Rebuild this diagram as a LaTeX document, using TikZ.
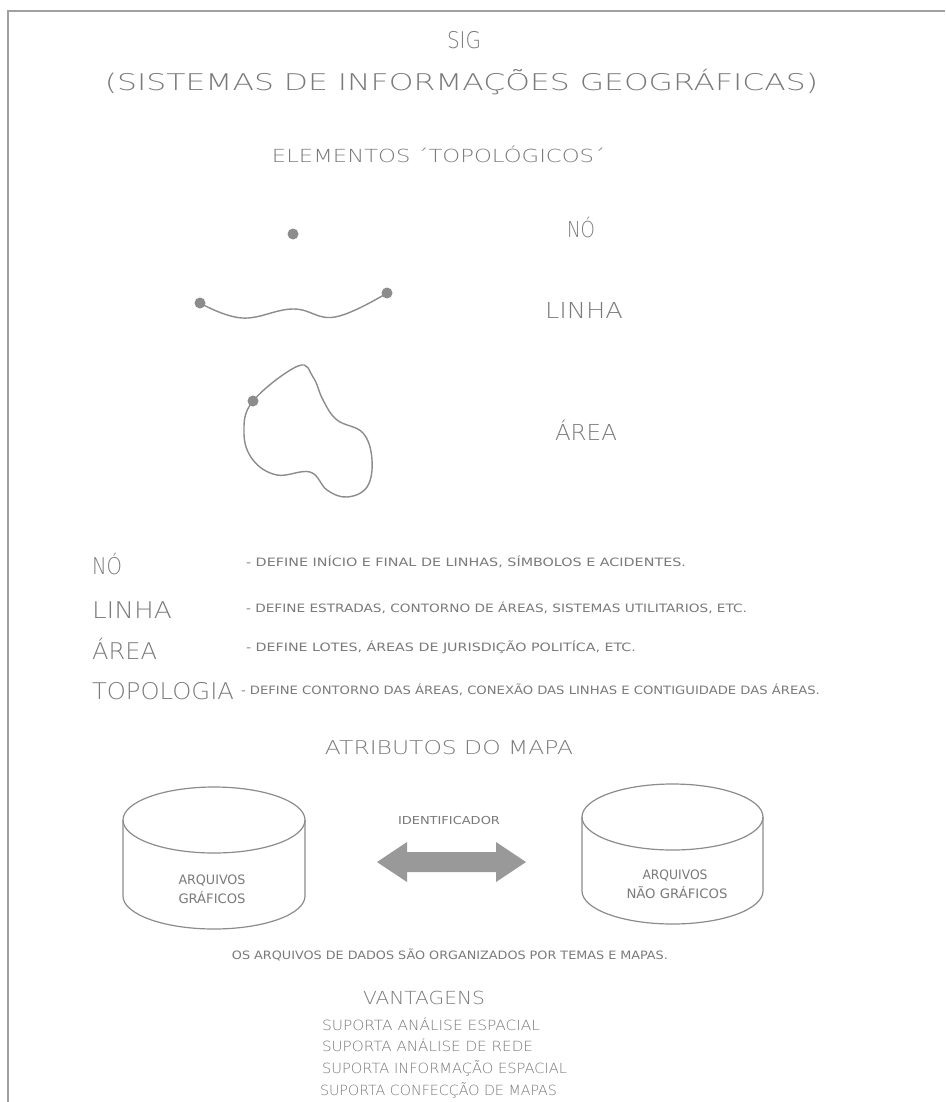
\documentclass[tikz,border=0pt]{standalone}
\usepackage{fontspec}
\usepackage{graphicx}
\newfontfamily\lightf{DejaVu Sans ExtraLight}
\newfontfamily\condf{DejaVu Sans Condensed}
\definecolor{ink}{HTML}{7A7A7A}
\definecolor{linegray}{HTML}{8C8C8C}
\definecolor{framegray}{HTML}{A0A0A0}
\definecolor{arrowgray}{HTML}{999999}
\newcommand\fitto[2]{\resizebox{#1pt}{\height}{#2}}
\tikzset{
  txt/.style={inner sep=0pt, outer sep=0pt, text=ink},
  fs/.style={font=\lightf\fontsize{#1}{#1}\selectfont},
  cs/.style={font=\condf\fontsize{#1}{#1}\selectfont},
  curve/.style={draw=linegray, line width=1.4pt},
  dot/.style={circle, fill=linegray, draw=none, minimum size=11pt, inner sep=0pt},
  cyl/.style={draw=linegray, line width=1.2pt},
  frame/.style={draw=framegray, line width=2pt},
  fatarrow/.style={fill=arrowgray, draw=none},
}
\begin{document}
\begin{tikzpicture}[x=1pt,y=-1pt]
\useasboundingbox (0,0) rectangle (945,1102);
\fill[white] (0,0) rectangle (945,1102);
\draw[frame] (8,1102) -- (8,11) -- (945,11);

% titles
\node[txt, fs=23, anchor=base] (sig) at (464,49) {\fitto{34}{SIG}};
\node[txt, fs=23, anchor=base] (title) at (461.5,91) {\fitto{713}{(SISTEMAS DE INFORMAÇÕES GEOGRÁFICAS)}};
\node[txt, fs=18, anchor=base] (elem) at (438.5,162) {\fitto{333}{ELEMENTOS ´TOPOLÓGICOS´}};

% topological elements
\node[dot] (no) at (293,234) {};
\node[txt, fs=22, anchor=base] (nolab) at (581,237) {\fitto{28}{NÓ}};

\node[dot] (la) at (200,303) {};
\node[dot] (lb) at (387,293) {};
\draw[curve] plot[smooth, tension=0.7] coordinates {(200,303) (242,318) (293,309) (335,317) (387,293)};
\node[txt, fs=22, anchor=base] (linlab) at (584,318) {\fitto{78}{LINHA}};

\draw[curve] plot[smooth cycle, tension=0.65] coordinates {
 (298,366) (313,377) (323,400) (337,420) (363,433) (372,460) (367,487)
 (347,497) (327,490) (310,472) (277,475) (253,460) (244,433) (253,401)};
\node[dot] (ad) at (253,401) {};
\node[txt, fs=22, anchor=base] (arlab) at (586,440) {\fitto{62}{ÁREA}};

% definitions
\node[txt, fs=23, anchor=base west] (dno) at (92,574) {\fitto{30}{NÓ}};
\node[txt, fs=23, anchor=base west] (dli) at (92,618) {\fitto{80}{LINHA}};
\node[txt, fs=23, anchor=base west] (dar) at (92,659) {\fitto{65}{ÁREA}};
\node[txt, fs=23, anchor=base west] (dto) at (92,699) {\fitto{142}{TOPOLOGIA}};
\node[txt, cs=11.5, anchor=base west] (tno) at (246,566) {\fitto{440}{- DEFINE INÍCIO E FINAL DE LINHAS, SÍMBOLOS E ACIDENTES.}};
\node[txt, cs=11.5, anchor=base west] (tli) at (246,612) {\fitto{501}{- DEFINE ESTRADAS, CONTORNO DE ÁREAS, SISTEMAS UTILITARIOS, ETC.}};
\node[txt, cs=11.5, anchor=base west] (tar) at (246,651) {\fitto{390}{- DEFINE LOTES, ÁREAS DE JURISDIÇÃO POLITÍCA, ETC.}};
\node[txt, cs=11.5, anchor=base west] (tto) at (241,694) {\fitto{579}{- DEFINE CONTORNO DAS ÁREAS, CONEXÃO DAS LINHAS E CONTIGUIDADE DAS ÁREAS.}};

% attributes
\node[txt, fs=19, anchor=base] (atr) at (449,754) {\fitto{248}{ATRIBUTOS DO MAPA}};

% left cylinder
\draw[cyl] (214,820) ellipse [x radius=91, y radius=33];
\draw[cyl] (123,820) -- (123,896) arc[start angle=180, end angle=0, x radius=91, y radius=33] -- (305,820);
% right cylinder
\draw[cyl] (672.5,817) ellipse [x radius=90.5, y radius=33];
\draw[cyl] (582,817) -- (582,891) arc[start angle=180, end angle=0, x radius=90.5, y radius=33] -- (763,817);

\node[txt, cs=13, anchor=base] (la1) at (212,884) {\fitto{67}{ARQUIVOS}};
\node[txt, cs=13, anchor=base] (la2) at (212,903) {\fitto{67}{GRÁFICOS}};
\node[txt, cs=13, anchor=base] (ra1) at (675,879) {\fitto{65}{ARQUIVOS}};
\node[txt, cs=13, anchor=base] (ra2) at (677,898) {\fitto{101}{NÃO GRÁFICOS}};

\node[txt, cs=11, anchor=base] (ident) at (449,824) {\fitto{102}{IDENTIFICADOR}};
\coordinate (arr) at (451.5,862);
\fill[fatarrow] (377,862) -- (407,842) -- (407,852) -- (496,852) -- (496,842) -- (526,862)
  -- (496,882) -- (496,872) -- (407,872) -- (407,882) -- cycle;

\node[txt, cs=11.5, anchor=base] (org) at (450,959) {\fitto{436}{OS ARQUIVOS DE DADOS SÃO ORGANIZADOS POR TEMAS E MAPAS.}};

% vantagens
\node[txt, fs=18, anchor=base] (van) at (424,1004) {\fitto{122}{VANTAGENS}};
\node[txt, fs=14, anchor=base west] (v1) at (322,1030) {\fitto{218}{SUPORTA ANÁLISE ESPACIAL}};
\node[txt, fs=14, anchor=base west] (v2) at (322,1051) {\fitto{211}{SUPORTA ANÁLISE DE REDE}};
\node[txt, fs=14, anchor=base west] (v3) at (322,1073) {\fitto{245}{SUPORTA INFORMAÇÃO ESPACIAL}};
\node[txt, fs=14, anchor=base west] (v4) at (320,1095) {\fitto{237}{SUPORTA CONFECÇÃO DE MAPAS}};
\end{tikzpicture}
\end{document}
